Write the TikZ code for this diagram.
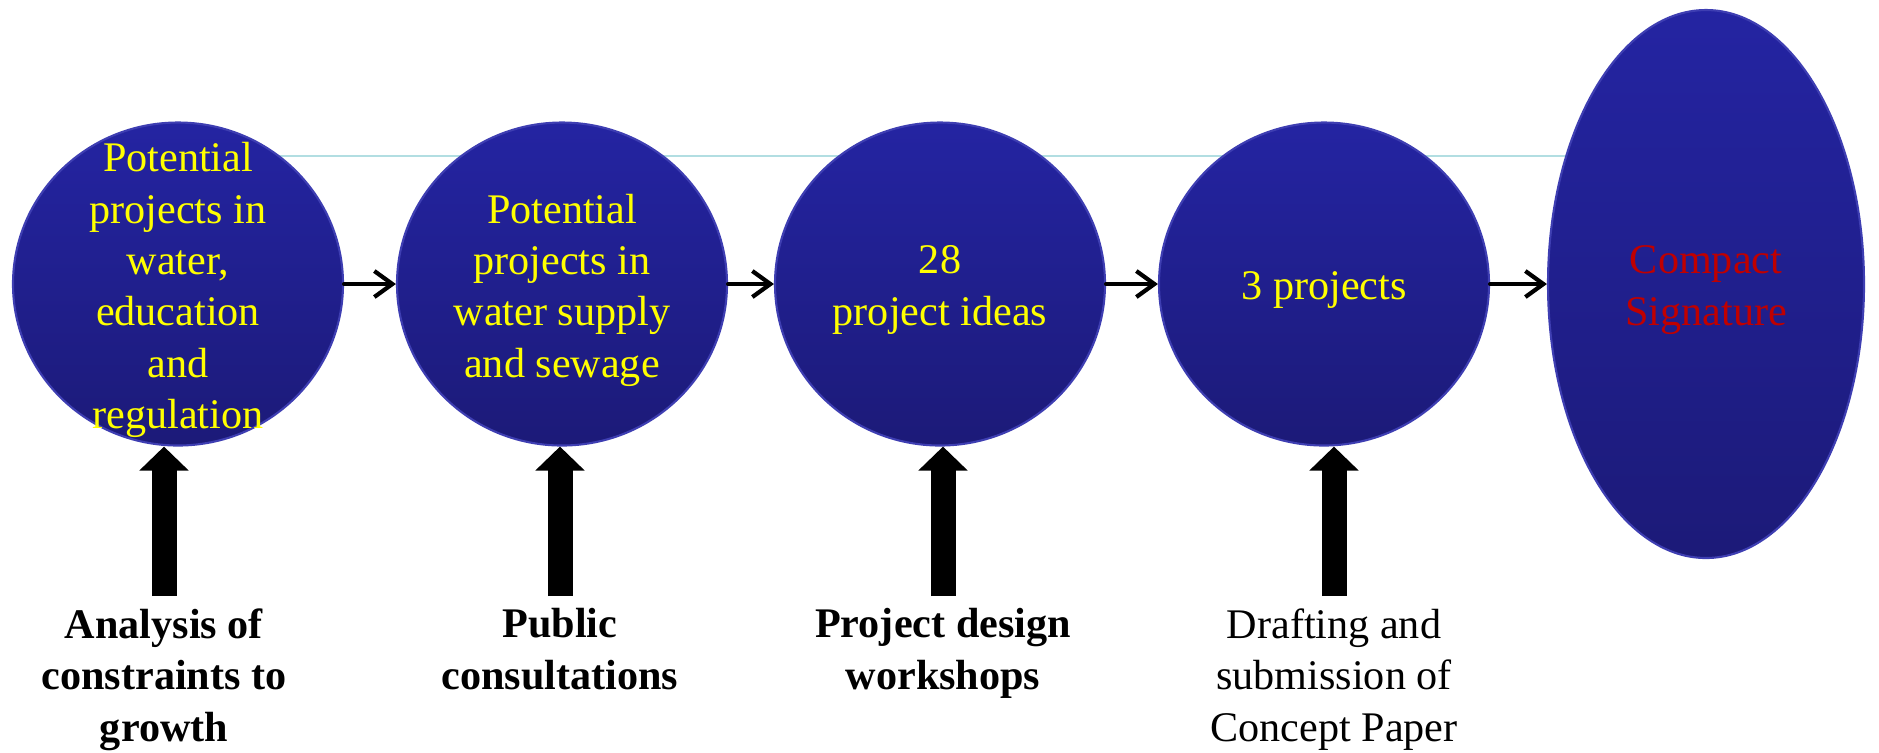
\documentclass[tikz,border=0pt]{standalone}
\usepackage{fontspec}
\setmainfont{Liberation Serif}
\usepackage{tikz}
\usetikzlibrary{shapes,arrows,arrows.meta,positioning,calc,backgrounds}
\definecolor{stageblue}{RGB}{36,36,162}
\definecolor{stagedark}{RGB}{28,26,120}
\definecolor{stageedge}{RGB}{62,62,178}
\definecolor{stageyellow}{RGB}{255,255,0}
\definecolor{signred}{RGB}{192,0,0}
\definecolor{guidecyan}{RGB}{178,222,226}
\newcommand{\diagfont}{\fontsize{12}{14.6}\selectfont}
\tikzset{
  stage/.style={draw=stageedge, line width=0.6pt, ellipse, top color=stageblue, bottom color=stagedark, inner sep=0pt, minimum width=3.3cm, minimum height=3.23cm},
  stagetext/.style={text=stageyellow, align=center, inner sep=0pt, font=\diagfont, yshift=-0.06cm},
  flow/.style={-{Straight Barb[length=1.8mm,width=2.6mm]}, line width=1.2pt, line cap=round, line join=round},
  feed/.style={-{Triangle[length=2.4mm,width=4.8mm]}, line width=2.5mm, shorten <=1.2mm},
  actlabel/.style={align=center, anchor=north, inner sep=0pt, font=\diagfont\bfseries},
  guide/.style={draw=guidecyan, line width=0.6pt}
}
\begin{document}
\begin{tikzpicture}
				\useasboundingbox (0,0) rectangle (18.79,-7.52);
				
				% Stages of the pipeline
				\node[stage] (c1) at (1.78,-2.84) {};
				\node[stage] (c2) at (5.62,-2.84) {};
				\node[stage] (c3) at (9.40,-2.84) {};
				\node[stage] (c4) at (13.24,-2.84) {};
				\node[stage, minimum width=3.16cm, minimum height=5.48cm] (sig) at (17.06,-2.84) {};
				
				\node[stagetext] (t1) at (c1) {Potential\\projects in\\water,\\education\\and\\regulation};
				\node[stagetext] (t2) at (c2) {Potential\\projects in\\water supply\\and sewage};
				\node[stagetext] (t3) at (c3) {28\\project ideas};
				\node[stagetext] (t4) at (c4) {3 projects};
				\node[stagetext, text=signred] (t5) at (sig) {Compact\\Signature};
				
				% Thin line behind the stages
				\coordinate (g) at (0,-1.56);
				\begin{scope}[on background layer]
					\draw[guide] (c1 |- g) -- (sig |- g);
				\end{scope}
				
				% Flow between stages
				\draw[flow] (c1) -- (c2);
				\draw[flow] (c2) -- (c3);
				\draw[flow] (c3) -- (c4);
				\draw[flow] (c4) -- (sig);
				
				% Activities feeding each stage
				\node[actlabel] (a1) at (1.64,-6.08) {Analysis of\\constraints to\\growth};
				\node[actlabel] (a2) at (5.60,-6.08) {Public\\consultations};
				\node[actlabel] (a3) at (9.43,-6.08) {Project design\\workshops};
				\node[actlabel, font=\diagfont] (a4) at (13.34,-6.08) {Drafting and\\submission of\\Concept Paper};
				
				\draw[feed] (a1.north) -- (a1.north |- c1.south);
				\draw[feed] (a2.north) -- (a2.north |- c2.south);
				\draw[feed] (a3.north) -- (a3.north |- c3.south);
				\draw[feed] (a4.north) -- (a4.north |- c4.south);
			\end{tikzpicture}
\end{document}
